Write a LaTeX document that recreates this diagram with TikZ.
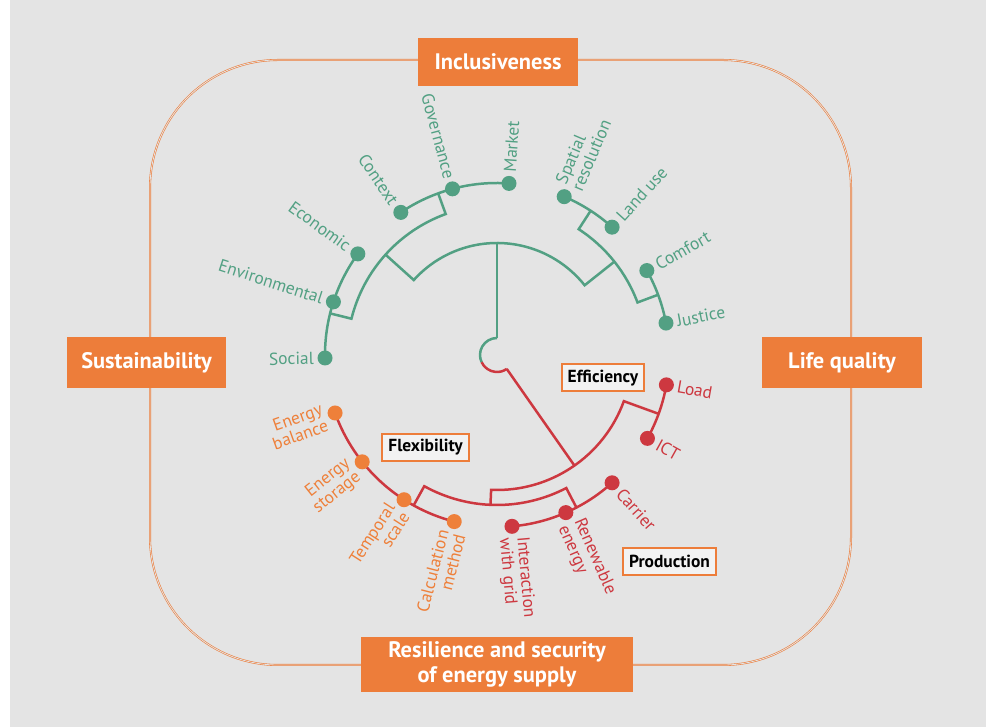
\documentclass[tikz,border=0pt]{standalone}
\usepackage{fontspec}
\setmainfont{PT Sans}
\definecolor{bggray}{RGB}{228,228,228}
\definecolor{dimorange}{RGB}{237,125,58}
\definecolor{treegreen}{RGB}{82,160,131}
\definecolor{treered}{RGB}{205,56,64}
\definecolor{leaforange}{RGB}{238,128,58}

\pgfdeclarelayer{backdrop}
\pgfdeclarelayer{branches}
\pgfsetlayers{backdrop,branches,main}

\def\rhop{17}
\def\rin{112}
\def\reff{135}
\def\rmid{150}
\def\rleaf{172}
\def\rtext{183}

\begin{document}
\begin{tikzpicture}[
    x=1bp, y=1bp,
    dimbox/.style={fill=dimorange, text=white, align=center, inner sep=0pt,
        font=\bfseries\fontsize{22.5}{25}\selectfont},
    groupbox/.style={draw=dimorange, line width=2bp, fill=bggray!50!white,
        minimum height=27bp, inner xsep=6bp, inner ysep=0pt,
        font=\bfseries\fontsize{17.5}{18}\selectfont},
    branch/.style={line width=2.5bp, draw=#1},
    dot/.style={circle, fill=#1, minimum size=15bp, inner sep=0pt},
    leaftext/.style={text=#1, inner sep=0pt, font=\fontsize{17.5}{17.5}\selectfont},
    west text/.style={anchor=west, align=left},
    east text/.style={anchor=east, align=right}
]

    \useasboundingbox (0,0) rectangle (992,727);

    % Backdrop and the frame round the tree
    \begin{pgfonlayer}{backdrop}
        \fill[bggray] (10,0) rectangle (986,727);
        \draw[dimorange, line width=0.6bp, double=bggray, double distance=0.8bp,
            rounded corners=128bp] (150,62) rectangle (851,667);
    \end{pgfonlayer}

    % Draw the four dimensions
    \node[dimbox, minimum width=160bp, minimum height=48bp] (inclusiveness) at (498,665) {Inclusiveness};
    \node[dimbox, minimum width=159bp, minimum height=51bp] (sustainability) at (146.5,364.5) {Sustainability};
    \node[dimbox, minimum width=160bp, minimum height=51bp] (lifequality) at (842,364.5) {Life quality};
    \node[dimbox, minimum width=272bp, minimum height=55bp] (resilience) at (497,62.5) {Resilience and security\\of energy supply};

    % Draw the group labels
    \node[groupbox] (efficiency) at (603,349) {Efficiency};
    \node[groupbox] (flexibility) at (425.5,279.5) {Flexibility};
    \node[groupbox] (production) at (669.5,165.5) {Production};

    \begin{scope}[shift={(497,372)}]
        \coordinate (root) at (0,0);

        % Draw the green leaves
        \foreach \name/\a/\txt in {social/181/Social, environmental/162/Environmental,
                economic/144/Economic, context/124/Context, governance/105/Governance} {
            \node[dot=treegreen] (\name) at (\a:\rleaf) {};
            \node[leaftext=treegreen, east text, rotate=\a-180] (\name-text) at (\a:\rtext) {\txt};
        }
        \foreach \name/\a/\txt in {market/86/Market, spatial/67/{Spatial\\resolution},
                landuse/48/Land use, comfort/29.4/Comfort, justice/10.7/Justice} {
            \node[dot=treegreen] (\name) at (\a:\rleaf) {};
            \node[leaftext=treegreen, west text, rotate=\a] (\name-text) at (\a:\rtext) {\txt};
        }

        % Draw the red and orange leaves
        \foreach \name/\a/\txt in {load/-10/Load, ict/-29/ICT, carrier/-48/Carrier,
                renewable/-66.4/{Renewable\\energy}, interaction/-85/{Interaction\\with grid}} {
            \node[dot=treered] (\name) at (\a:\rleaf) {};
            \node[leaftext=treered, west text, rotate=\a] (\name-text) at (\a:\rtext) {\txt};
        }
        \foreach \name/\a/\txt in {calculation/-104.4/{Calculation\\method}, temporal/-122.7/{Temporal\\scale},
                storage/-141.6/{Energy\\storage}, balance/-160.3/{Energy\\balance}} {
            \node[dot=leaforange] (\name) at (\a:\rleaf) {};
            \node[leaftext=leaforange, east text, rotate=\a+180] (\name-text) at (\a:\rtext) {\txt};
        }

        \begin{pgfonlayer}{branches}
            % Hop round the root
            \draw[branch=treegreen] (90:\rhop) arc[start angle=90, end angle=205, radius=\rhop];
            \draw[branch=treered] (205:\rhop) arc[start angle=205, end angle=305, radius=\rhop];

            % Green branches
            \draw[branch=treegreen] (root) ++(90:\rhop) -- (90:\rin);
            \draw[branch=treegreen] (138:\rmid) -- (138:\rin)
                arc[start angle=138, end angle=38.5, radius=\rin] -- (38.5:\rmid);
            \draw[branch=treegreen] (110:\rleaf) -- (110:\rmid)
                arc[start angle=110, end angle=166, radius=\rmid] -- (166:\rleaf);
            \draw[branch=treegreen] (57:\rleaf) -- (57:\rmid)
                arc[start angle=57, end angle=20.5, radius=\rmid] -- (20.5:\rleaf);
            \draw[branch=treegreen] (market.center) arc[start angle=86, end angle=124, radius=\rleaf];
            \draw[branch=treegreen] (economic.center) arc[start angle=144, end angle=181, radius=\rleaf];
            \draw[branch=treegreen] (spatial.center) arc[start angle=67, end angle=48, radius=\rleaf];
            \draw[branch=treegreen] (comfort.center) arc[start angle=29.4, end angle=10.7, radius=\rleaf];

            % Red branches
            \draw[branch=treered] (305:\rhop) -- (305:\reff);
            \draw[branch=treered] (-20:\rleaf) -- (-20:\reff)
                arc[start angle=-20, end angle=-92.5, radius=\reff] -- (-92.5:\rmid);
            \draw[branch=treered] (-62.5:\rleaf) -- (-62.5:\rmid)
                arc[start angle=-62.5, end angle=-119, radius=\rmid] -- (-119:\rleaf);
            \draw[branch=treered] (load.center) arc[start angle=-10, end angle=-29, radius=\rleaf];
            \draw[branch=treered] (carrier.center) arc[start angle=-48, end angle=-85, radius=\rleaf];
            \draw[branch=treered] (calculation.center) arc[start angle=-104.4, end angle=-160.3, radius=\rleaf];
        \end{pgfonlayer}
    \end{scope}
\end{tikzpicture}
\end{document}
